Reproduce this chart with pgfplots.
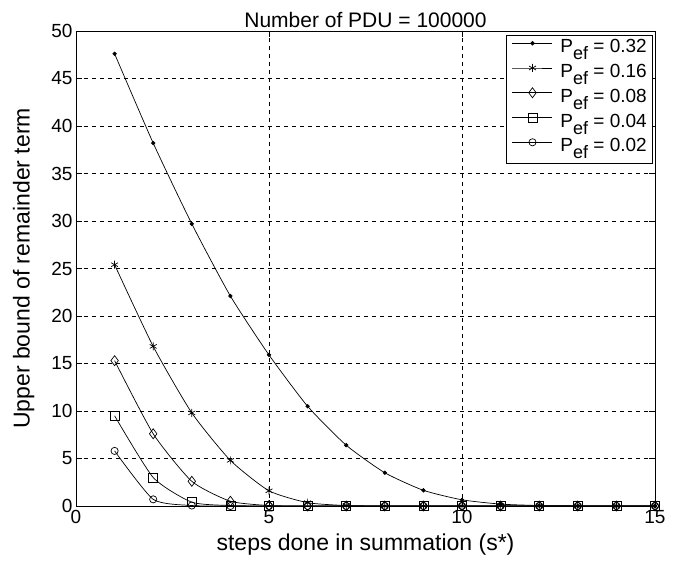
\documentclass[border=0pt]{standalone}
\usepackage{fontspec}
\setmainfont{Liberation Sans}
\usepackage{pgfplots}
\pgfplotsset{compat=1.18}
\newcommand{\Pef}{P\raisebox{-7pt}{\fontsize{18}{18}\selectfont ef}}
\begin{document}
\begin{tikzpicture}[x=1pt,y=1pt]
\useasboundingbox (0,0) rectangle (689,563);
\begin{axis}[
  at={(76pt,57pt)}, anchor=south west,
  scale only axis, width=579pt, height=475pt,
  xmin=0, xmax=15, ymin=0, ymax=50,
  xtick={0,5,10,15}, ytick={0,5,...,50},
  grid=major,
  major grid style={black, dashed, line width=0.5pt, dash pattern=on 4pt off 4pt},
  axis line style={black, line width=0.7pt},
  tick align=inside, major tick length=6pt,
  tick style={black, line width=0.6pt},
  /pgf/number format/assume math mode=true,
  ticklabel style={font=\fontsize{19}{22}\selectfont},
  xticklabel style={yshift=-1pt},
  xlabel={steps done in summation (s*)},
  ylabel={Upper bound of remainder term},
  label style={font=\fontsize{23}{26}\selectfont},
  xlabel style={yshift=-3pt},
  ylabel style={yshift=10pt},
  title={Number of PDU = 100000},
  title style={font=\fontsize{21}{24}\selectfont, yshift=-6pt},
  legend style={at={(0.995,0.992)}, anchor=north east, draw=black, line width=0.6pt,
     font=\fontsize{19}{22}\selectfont, row sep=1.5pt, inner xsep=3pt, inner ysep=3pt,
     nodes={inner ysep=1.5pt, text depth=7pt}},
  legend cell align=left,
  legend image code/.code={\path[draw=none,fill=none] (0pt,6pt) -- (49pt,6pt); \draw[#1,yshift=6.5pt] (3pt,0pt) -- (23pt,0pt) -- (43pt,0pt); \draw[#1,yshift=6.5pt,only marks, mark options={solid}] plot coordinates {(23pt,0pt)};},
  every axis plot/.append style={black, line width=0.7pt, smooth, tension=0.35},
]
\addplot[mark=*, mark size=1.8pt] coordinates {(1,47.6)(2,38.2)(3,29.7)(4,22.1)(5,15.9)(6,10.5)(7,6.4)(8,3.5)(9,1.65)(10,0.65)(11,0.2)(12,0.05)(13,0.01)(14,0)(15,0)};
\addlegendentry{\Pef{} = 0.32}
\addplot[mark=asterisk, mark size=4pt] coordinates {(1,25.4)(2,16.8)(3,9.8)(4,4.8)(5,1.6)(6,0.35)(7,0.05)(8,0)(9,0)(10,0)(11,0)(12,0)(13,0)(14,0)(15,0)};
\addlegendentry{\Pef{} = 0.16}
\addplot[mark=diamond, mark size=5pt] coordinates {(1,15.3)(2,7.6)(3,2.6)(4,0.5)(5,0.05)(6,0)(7,0)(8,0)(9,0)(10,0)(11,0)(12,0)(13,0)(14,0)(15,0)};
\addlegendentry{\Pef{} = 0.08}
\addplot[mark=square, mark size=4.5pt] coordinates {(1,9.5)(2,3.0)(3,0.4)(4,0.05)(5,0)(6,0)(7,0)(8,0)(9,0)(10,0)(11,0)(12,0)(13,0)(14,0)(15,0)};
\addlegendentry{\Pef{} = 0.04}
\addplot[mark=o, mark size=3.6pt] coordinates {(1,5.8)(2,0.7)(3,0.05)(4,0)(5,0)(6,0)(7,0)(8,0)(9,0)(10,0)(11,0)(12,0)(13,0)(14,0)(15,0)};
\addlegendentry{\Pef{} = 0.02}
\end{axis}
\end{tikzpicture}
\end{document}
